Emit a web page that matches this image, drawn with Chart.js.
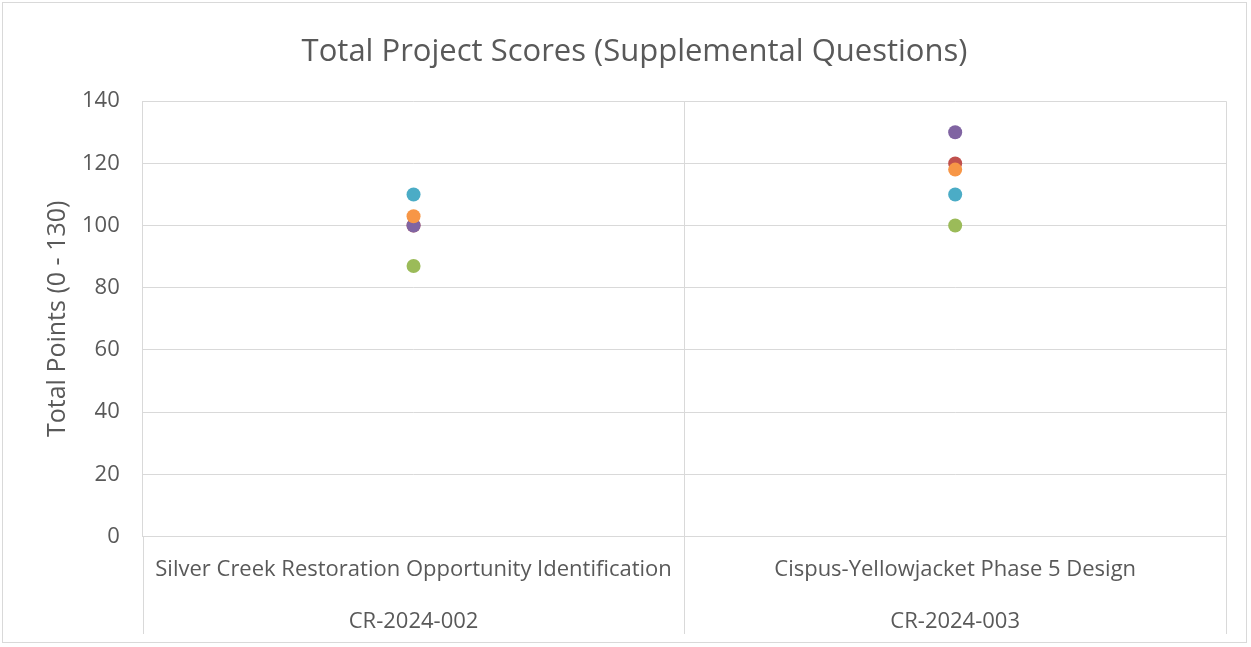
<!DOCTYPE html>
<html>
<head>
<meta charset="utf-8">
<script src="https://cdn.jsdelivr.net/npm/chart.js@4/dist/chart.umd.min.js"></script>
<style>
  html, body { margin: 0; padding: 0; background: #fff; }
  #wrap { position: relative; width: 1245px; height: 641px; margin: 2px; border: 1px solid #d9d9d9; box-sizing: border-box; }
</style>
</head>
<body>
<div id="wrap"><canvas id="scoreChart"></canvas></div>
<script>
// project names and ids
const projects = ['Silver Creek Restoration Opportunity Identification', 'Cispus-Yellowjacket Phase 5 Design'];
const projectIds = ['CR-2024-002', 'CR-2024-003'];

// scores from each reviewer
const reviewer1 = [100, 120];
const reviewer2 = [87, 100];
const reviewer3 = [100, 130];
const reviewer4 = [110, 110];
const reviewer5 = [103, 118];

const yTicks = [0, 20, 40, 60, 80, 100, 120, 140];

const labels = projects.map((p, i) => [p, '', projectIds[i]]);

const series = [
    { name: 'Reviewer 1', data: reviewer1, color: '#C0504D' },
    { name: 'Reviewer 2', data: reviewer2, color: '#9BBB59' },
    { name: 'Reviewer 3', data: reviewer3, color: '#8064A2' },
    { name: 'Reviewer 4', data: reviewer4, color: '#4BACC6' },
    { name: 'Reviewer 5', data: reviewer5, color: '#F79646' }
];

// extend the category divider lines down through the label area
const dividerLines = {
    id: 'dividerLines',
    afterDraw(chart) {
        const x = chart.scales.x;
        const c = chart.ctx;
        const n = x.ticks.length;
        const xs = [x.left];
        for (let i = 0; i < n - 1; i++) {
            xs.push((x.getPixelForTick(i) + x.getPixelForTick(i + 1)) / 2);
        }
        xs.push(x.right);
        c.save();
        c.strokeStyle = '#d9d9d9';
        c.lineWidth = 1;
        xs.forEach(px => {
            const p = Math.round(px) + 0.5;
            c.beginPath();
            c.moveTo(p, x.top);
            c.lineTo(p, Math.min(x.bottom, chart.height - 8));
            c.stroke();
        });
        c.restore();
    }
};

const ctx = document.getElementById('scoreChart').getContext('2d');
new Chart(ctx, {
    type: 'line',
    // reversed so later reviewers sit on top, like the original
    data: {
        labels: labels,
        datasets: series.slice().reverse().map(s => ({
            label: s.name,
            data: s.data,
            showLine: false,
            pointRadius: 7,
            pointHoverRadius: 7,
            pointBackgroundColor: s.color,
            pointBorderColor: s.color,
            pointBorderWidth: 0
        }))
    },
    plugins: [dividerLines],
    options: {
        responsive: true,
        maintainAspectRatio: false,
        animation: false,
        layout: { padding: { left: 40, right: 20, top: 31, bottom: -13 } },
        plugins: {
            legend: { display: false },
            tooltip: { enabled: false },
            title: {
                display: true,
                text: 'Total Project Scores (Supplemental Questions)',
                color: '#595959',
                font: { family: 'Open Sans', size: 31, weight: 'normal' },
                padding: { top: 0, bottom: 30 }
            }
        },
        scales: {
            x: {
                offset: true,
                grid: {
                    offset: true,
                    color: '#d9d9d9',
                    drawTicks: false
                },
                border: { color: '#d9d9d9' },
                ticks: {
                    color: '#595959',
                    padding: 21,
                    maxRotation: 0,
                    autoSkip: false,
                    font: { family: 'Open Sans', size: 22, lineHeight: 1.16 }
                }
            },
            y: {
                min: 0,
                max: 140,
                afterBuildTicks: axis => { axis.ticks = yTicks.map(v => ({ value: v })); },
                grid: { color: '#d9d9d9', drawTicks: false },
                border: { color: '#d9d9d9' },
                ticks: {
                    color: '#595959',
                    padding: 23,
                    font: { family: 'Open Sans', size: 22 }
                },
                title: {
                    display: true,
                    text: 'Total Points (0 - 130)',
                    color: '#595959',
                    font: { family: 'Open Sans', size: 25 },
                    padding: { top: 0, bottom: -14 }
                }
            }
        }
    }
});
</script>
</body>
</html>
